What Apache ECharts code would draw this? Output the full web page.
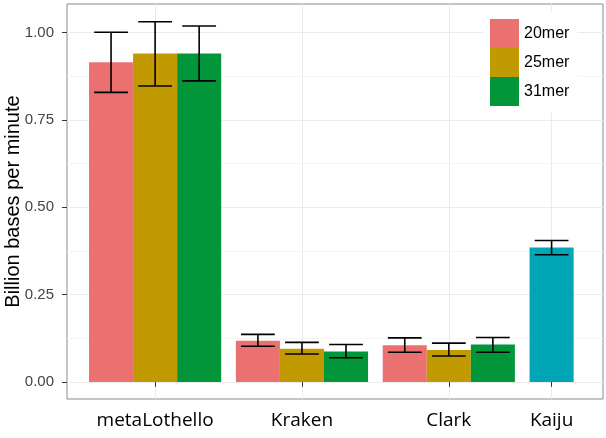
<!DOCTYPE html>
<html>
<head>
<meta charset="utf-8">
<script src="https://cdn.jsdelivr.net/npm/echarts@6/dist/echarts.min.js"></script>
<style>html,body{margin:0;padding:0;background:#fff}#c{width:606px;height:438px}</style>
</head>
<body>
<div id="c"></div>
<script>
var categories = ['metaLothello', 'Kraken', 'Clark', 'Kaiju'];
var categoryPositions = [1, 2, 3, 3.7];
var merNames = ['20mer', '25mer', '31mer'];
var mer20 = [0.915, 0.118, 0.105];
var mer20Low = [0.829, 0.102, 0.085];
var mer20High = [1.001, 0.136, 0.126];
var mer25 = [0.940, 0.095, 0.091];
var mer25Low = [0.847, 0.080, 0.074];
var mer25High = [1.031, 0.113, 0.111];
var mer31 = [0.940, 0.087, 0.107];
var mer31Low = [0.862, 0.069, 0.085];
var mer31High = [1.019, 0.107, 0.127];
var kaiju = [0.385];
var kaijuLow = [0.364];
var kaijuHigh = [0.405];
var yTicks = [0, 0.25, 0.5, 0.75, 1.0];
var yMinorTicks = [0.125, 0.375, 0.625, 0.875];

var colors = ['#EB7170', '#C09A00', '#009639', '#00A6B5'];
var dodge = 0.3, capW = 0.23;

function build(vals, lows, highs, posIdx) {
  return vals.map(function (v, i) {
    var p = posIdx ? categoryPositions[posIdx[i]] : categoryPositions[i];
    return [p, v, lows[i], highs[i]];
  });
}

function makeRender(offsetIdx, nGroup) {
  return function (params, api) {
    var off = (offsetIdx - (nGroup - 1) / 2) * dodge;
    var x = api.value(0) + off;
    var v = api.value(1), lo = api.value(2), hi = api.value(3);
    var p0 = api.coord([x - dodge / 2, v]);
    var p1 = api.coord([x + dodge / 2, 0]);
    var cLo = api.coord([x, lo]), cHi = api.coord([x, hi]);
    var cL = api.coord([x - capW / 2, 0]), cR = api.coord([x + capW / 2, 0]);
    var ls = { stroke: '#000', lineWidth: 1.6 };
    return {
      type: 'group',
      children: [
        { type: 'rect', shape: { x: p0[0], y: p0[1], width: p1[0] - p0[0], height: p1[1] - p0[1] }, style: { fill: api.visual('color') } },
        { type: 'line', shape: { x1: cLo[0], y1: cLo[1], x2: cHi[0], y2: cHi[1] }, style: ls },
        { type: 'line', shape: { x1: cL[0], y1: cLo[1], x2: cR[0], y2: cLo[1] }, style: ls },
        { type: 'line', shape: { x1: cL[0], y1: cHi[1], x2: cR[0], y2: cHi[1] }, style: ls }
      ]
    };
  };
}

var series = [
  { name: merNames[0], type: 'custom', renderItem: makeRender(0, 3), data: build(mer20, mer20Low, mer20High), itemStyle: { color: colors[0] }, encode: { x: 0, y: [1, 2, 3] } },
  { name: merNames[1], type: 'custom', renderItem: makeRender(1, 3), data: build(mer25, mer25Low, mer25High), itemStyle: { color: colors[1] }, encode: { x: 0, y: [1, 2, 3] } },
  { name: merNames[2], type: 'custom', renderItem: makeRender(2, 3), data: build(mer31, mer31Low, mer31High), itemStyle: { color: colors[2] }, encode: { x: 0, y: [1, 2, 3] } },
  { name: 'Kaiju', type: 'custom', renderItem: makeRender(0, 1), data: build(kaiju, kaijuLow, kaijuHigh, [3]), itemStyle: { color: colors[3] }, encode: { x: 0, y: [1, 2, 3] } }
];

var chart = echarts.init(document.getElementById('c'), null, { renderer: 'canvas' });
chart.setOption({
  animation: false,
  backgroundColor: '#fff',
  grid: { left: 67, right: 3, top: 4, bottom: 39, containLabel: false, outerBoundsMode: 'none', show: true, borderColor: '#8a8a8a', borderWidth: 1, backgroundColor: 'transparent' },
  legend: {
    data: merNames,
    orient: 'vertical',
    left: 483, top: 12,
    itemWidth: 29, itemHeight: 29, itemGap: 0,
    padding: [7, 8, 7, 7],
    backgroundColor: '#fff',
    icon: 'rect',
    textStyle: { fontFamily: 'Liberation Sans', fontSize: 16, color: '#000' }
  },
  xAxis: {
    type: 'value', min: 0.4, max: 4.05,
    axisLine: { show: false },
    axisTick: { show: true, customValues: categoryPositions, length: 5, lineStyle: { color: '#333' } },
    axisLabel: {
      customValues: categoryPositions, margin: 12,
      fontFamily: 'Open Sans', fontSize: 19, color: '#000',
      formatter: function (v) {
        for (var i = 0; i < categoryPositions.length; i++) if (Math.abs(categoryPositions[i] - v) < 1e-6) return categories[i];
        return '';
      }
    },
    splitLine: { show: true, lineStyle: { color: '#ebebeb', width: 1 } }
  },
  yAxis: [{
    type: 'value', min: -0.049, max: 1.082,
    name: 'Billion bases per minute', nameLocation: 'middle', nameGap: 44, nameMoveOverlap: false,
    nameTextStyle: { fontFamily: 'Liberation Sans', fontSize: 20, color: '#000' },
    axisLine: { show: false },
    axisTick: { show: true, customValues: yTicks, length: 5, lineStyle: { color: '#333' } },
    axisLabel: { customValues: yTicks, margin: 13, fontFamily: 'Liberation Sans', fontSize: 15, color: '#444', formatter: function (v) { return v.toFixed(2); } },
    splitLine: { show: true, lineStyle: { color: '#ebebeb', width: 1 } }
  }, {
    type: 'value', min: -0.049, max: 1.082, position: 'left',
    axisLine: { show: false },
    axisTick: { show: false, customValues: yMinorTicks },
    axisLabel: { show: false, customValues: yMinorTicks },
    splitLine: { show: true, lineStyle: { color: '#f6f6f6', width: 1 } }
  }],
  series: series
});
</script>
</body>
</html>
